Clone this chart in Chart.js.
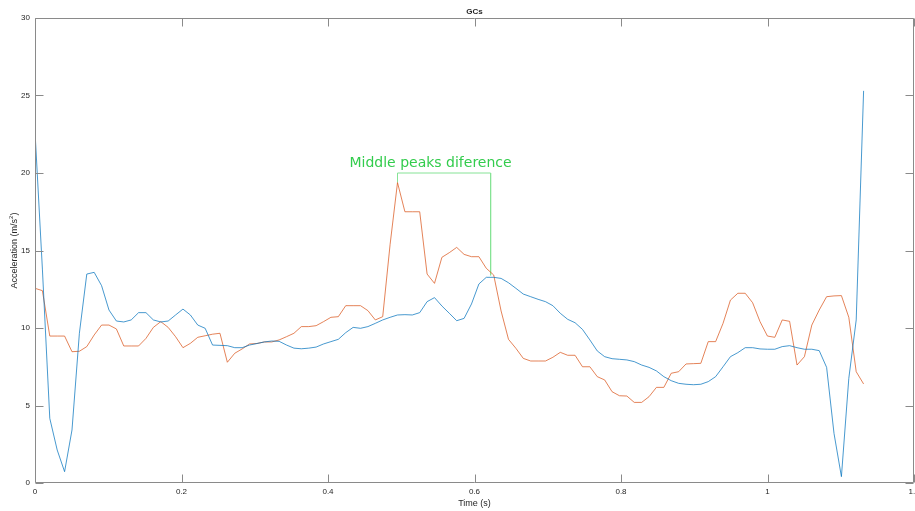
<!DOCTYPE html>
<html>
<head>
<meta charset="utf-8">
<script src="https://cdn.jsdelivr.net/npm/chart.js@4.4.0/dist/chart.umd.min.js"></script>
<style>
  html, body { margin: 0; padding: 0; background: #fff; }
  canvas { display: block; }
</style>
</head>
<body>
<canvas id="myChart" width="915" height="511"></canvas>
<script>
// both signals are sampled every 0.0101 s, starting at t = 0
var step = 0.0101;
var blueAcc = [22.67, 13.8, 4.17, 2.13, 0.73, 3.42, 9.66, 13.48, 13.59, 12.73,
  11.16, 10.45, 10.39, 10.52, 10.99, 10.99, 10.52, 10.39, 10.45, 10.84,
  11.22, 10.84, 10.19, 9.98, 8.9, 8.88, 8.86, 8.73, 8.73, 8.9,
  9.0, 9.1, 9.16, 9.14, 8.9, 8.7, 8.66, 8.7, 8.77, 8.97,
  9.12, 9.27, 9.7, 10.04, 9.98, 10.09, 10.3, 10.52, 10.69, 10.84,
  10.86, 10.84, 10.99, 11.7, 11.96, 11.42, 10.95, 10.47, 10.62, 11.55,
  12.84, 13.27, 13.27, 13.2, 12.92, 12.56, 12.19, 12.02, 11.85, 11.7,
  11.44, 10.95, 10.56, 10.34, 9.91, 9.23, 8.52, 8.15, 8.02, 7.98,
  7.94, 7.83, 7.61, 7.46, 7.23, 6.86, 6.6, 6.43, 6.37, 6.34,
  6.37, 6.54, 6.86, 7.5, 8.15, 8.41, 8.73, 8.73, 8.65, 8.63,
  8.63, 8.8, 8.86, 8.73, 8.63, 8.63, 8.54, 7.46, 3.2, 0.41,
  6.75, 10.52, 25.3];
var orangeAcc = [12.56, 12.41, 9.48, 9.48, 9.48, 8.47, 8.5, 8.8, 9.55, 10.19,
  10.19, 9.94, 8.84, 8.84, 8.84, 9.33, 10.04, 10.41, 10.04, 9.44,
  8.73, 9.01, 9.4, 9.5, 9.6, 9.66, 7.79, 8.37, 8.65, 8.97,
  9.0, 9.1, 9.1, 9.23, 9.44, 9.66, 10.09, 10.09, 10.15, 10.41,
  10.69, 10.73, 11.44, 11.44, 11.44, 11.12, 10.52, 10.73, 15.4, 19.38,
  17.5, 17.5, 17.5, 13.48, 12.88, 14.56, 14.86, 15.2, 14.75, 14.6,
  14.6, 13.85, 13.42, 11.1, 9.27, 8.69, 8.04, 7.87, 7.87, 7.87,
  8.11, 8.43, 8.24, 8.24, 7.5, 7.5, 6.86, 6.65, 5.89, 5.63,
  5.61, 5.2, 5.2, 5.57, 6.17, 6.17, 7.08, 7.18, 7.68, 7.7,
  7.72, 9.12, 9.12, 10.3, 11.8, 12.24, 12.24, 11.63, 10.41, 9.48,
  9.4, 10.52, 10.43, 7.61, 8.15, 10.19, 11.16, 12.02, 12.07, 12.09,
  10.69, 7.18, 6.39];
var xTicks = [0, 0.2, 0.4, 0.6, 0.8, 1, 1.2];
var yTicks = [0, 5, 10, 15, 20, 25, 30];
// bracket between the two middle peaks
var bracketTime = [0.4949, 0.4949, 0.622, 0.622];
var bracketAcc = [19.38, 20, 20, 13.4];
var noteText = 'Middle peaks diference';
var noteTime = 0.54;
var noteAcc = 20;

function toPoints(values) {
  var pts = [];
  for (var i = 0; i < values.length; i++) {
    pts.push({ x: i * step, y: values[i] });
  }
  return pts;
}

var tickFont = { family: "'Liberation Sans', Arial, sans-serif", size: 8 };
var axisColor = '#8a8a8a';

//box round the plot, inward ticks on all sides, titles and the note
var matlabAxes = {
  id: 'matlabAxes',
  afterDraw: function (chart) {
    var c = chart.ctx, a = chart.chartArea;
    var xs = chart.scales.x, ys = chart.scales.y;
    var L = Math.round(a.left) + 0.5, R = Math.round(a.right) - 0.5;
    var T = Math.round(a.top) + 0.5, B = Math.round(a.bottom) - 0.5;
    c.save();
    c.strokeStyle = axisColor;
    c.lineWidth = 1;
    c.beginPath();
    c.rect(L, T, R - L, B - T);
    xTicks.forEach(function (v) {
      var px = Math.round(xs.getPixelForValue(v)) + 0.5;
      c.moveTo(px, B); c.lineTo(px, B - 8);
      c.moveTo(px, T); c.lineTo(px, T + 8);
    });
    yTicks.forEach(function (v) {
      var py = Math.round(ys.getPixelForValue(v)) + 0.5;
      c.moveTo(L, py); c.lineTo(L + 8, py);
      c.moveTo(R, py); c.lineTo(R - 8, py);
    });
    c.stroke();

    c.fillStyle = '#262626';
    c.textAlign = 'center';
    c.textBaseline = 'alphabetic';
    c.font = "bold 8px 'Liberation Sans', Arial, sans-serif";
    c.fillText('GCs', (a.left + a.right) / 2, 14);

    c.font = "9px 'Liberation Sans', Arial, sans-serif";
    c.fillText('Time (s)', (a.left + a.right) / 2, 506);

    // y label with a raised 2
    c.save();
    c.translate(17, (a.top + a.bottom) / 2);
    c.rotate(-Math.PI / 2);
    var main = 'Acceleration (m/s', sup = '2', end = ')';
    c.font = "9px 'Liberation Sans', Arial, sans-serif";
    var w1 = c.measureText(main).width, w3 = c.measureText(end).width;
    c.font = "6px 'Liberation Sans', Arial, sans-serif";
    var w2 = c.measureText(sup).width;
    var x0 = -(w1 + w2 + w3) / 2;
    c.textAlign = 'left';
    c.font = "9px 'Liberation Sans', Arial, sans-serif";
    c.fillText(main, x0, 0);
    c.fillText(end, x0 + w1 + w2, 0);
    c.font = "6px 'Liberation Sans', Arial, sans-serif";
    c.fillText(sup, x0 + w1, -4);
    c.restore();

    c.fillStyle = '#33cc4d';
    c.textAlign = 'center';
    c.font = "14px 'DejaVu Sans', Verdana, sans-serif";
    c.fillText(noteText, xs.getPixelForValue(noteTime), ys.getPixelForValue(noteAcc) - 6);
    c.restore();
  }
};

var ctx = document.getElementById('myChart');
var myChart = new Chart(ctx, {
  type: 'line',
  data: {
    datasets: [{
      label: 'blue',
      data: toPoints(blueAcc),
      borderColor: 'rgba(0, 114, 189, 0.72)',
      borderWidth: 1
    }, {
      label: 'orange',
      data: toPoints(orangeAcc),
      borderColor: 'rgba(217, 83, 25, 0.72)',
      borderWidth: 1
    }, {
      label: 'bracket',
      data: bracketTime.map(function (t, i) { return { x: t, y: bracketAcc[i] }; }),
      borderColor: '#86e396',
      borderWidth: 1
    }]
  },
  options: {
    responsive: false,
    maintainAspectRatio: false,
    devicePixelRatio: 1,
    animation: false,
    layout: { padding: { top: 18, right: 1, left: 0, bottom: 0 } },
    elements: { point: { radius: 0 }, line: { tension: 0 } },
    plugins: { legend: { display: false }, tooltip: { enabled: false } },
    scales: {
      x: {
        type: 'linear',
        min: 0,
        max: 1.2,
        grid: { display: false, drawTicks: false },
        border: { display: false },
        afterBuildTicks: function (s) { s.ticks = xTicks.map(function (v) { return { value: v }; }); },
        afterFit: function (s) { s.height = 28; s.paddingLeft = 0; s.paddingRight = 0; },
        ticks: {
          font: tickFont,
          color: '#262626',
          padding: 4,
          maxRotation: 0,
          autoSkip: false,
          callback: function (v) { return String(Math.round(v * 10) / 10); }
        }
      },
      y: {
        min: 0,
        max: 30,
        grid: { display: false, drawTicks: false },
        border: { display: false },
        afterBuildTicks: function (s) { s.ticks = yTicks.map(function (v) { return { value: v }; }); },
        afterFit: function (s) { s.width = 35; s.paddingTop = 0; s.paddingBottom = 0; },
        ticks: {
          font: tickFont,
          color: '#262626',
          padding: 5,
          autoSkip: false,
          callback: function (v) { return String(v); }
        }
      }
    }
  },
  plugins: [matlabAxes]
});
</script>
</body>
</html>
